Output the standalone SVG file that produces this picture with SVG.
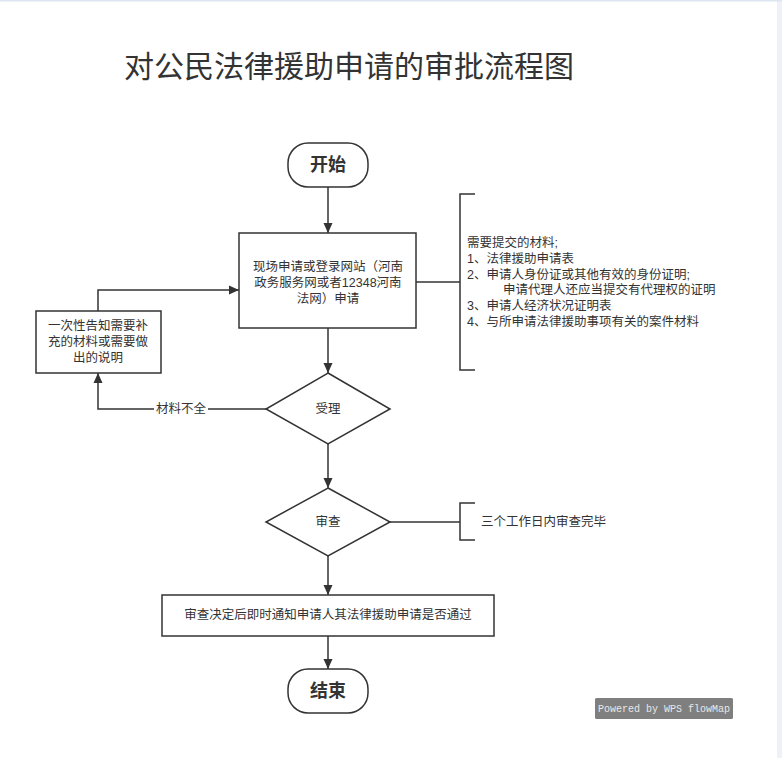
<svg xmlns="http://www.w3.org/2000/svg" width="782" height="758" viewBox="0 0 782 758">
<defs>
<marker id="arr" viewBox="0 0 10 10" refX="10" refY="5" markerWidth="10" markerHeight="10" markerUnits="userSpaceOnUse" orient="auto">
<path d="M0,0.5 L10,5 L0,9.5 Z" fill="#333333"/>
</marker>
<style>
.shape{fill:#ffffff;stroke:#333333;stroke-width:1.5}
.line{fill:none;stroke:#333333;stroke-width:1.5}
.t{font-family:"Liberation Sans","Noto Sans CJK SC",sans-serif;fill:#333333;font-size:12.5px}
.c{text-anchor:middle;dominant-baseline:central}
.term{font-family:"Liberation Sans","Noto Sans CJK SC",sans-serif;fill:#333333;font-size:18px;font-weight:bold;text-anchor:middle;dominant-baseline:central}
</style>
</defs>
<rect x="0" y="0" width="782" height="758" fill="#ffffff"/>
<rect x="777" y="0" width="5" height="758" fill="#eef2f8"/>
<rect x="0" y="0" width="782" height="1.5" fill="#dce6f2"/>
<text x="349" y="66" font-family="'Liberation Sans','Noto Sans CJK SC',sans-serif" font-size="30" fill="#333333" text-anchor="middle" dominant-baseline="central">对公民法律援助申请的审批流程图</text>

<g id="connectors">
<line class="line" x1="328" y1="187" x2="328" y2="233" marker-end="url(#arr)"/>
<line class="line" x1="328" y1="328" x2="328" y2="373" marker-end="url(#arr)"/>
<line class="line" x1="328" y1="444" x2="328" y2="488" marker-end="url(#arr)"/>
<line class="line" x1="328" y1="556" x2="328" y2="595" marker-end="url(#arr)"/>
<line class="line" x1="328" y1="636" x2="328" y2="669" marker-end="url(#arr)"/>
<polyline class="line" points="98,311 98,290 239,290" marker-end="url(#arr)"/>
<polyline class="line" points="266,409 98,409 98,373" marker-end="url(#arr)"/>
<rect x="154" y="401" width="54" height="16" fill="#ffffff"/>
<text class="t c" x="181" y="409">材料不全</text>
<line class="line" x1="416" y1="282" x2="460" y2="282"/>
<polyline class="line" points="475,194 460,194 460,370 475,370"/>
<line class="line" x1="390" y1="522" x2="460" y2="522"/>
<polyline class="line" points="475,503 460,503 460,540 475,540"/>
</g>

<g id="start">
<rect class="shape" x="288" y="143" width="80" height="44" rx="20" ry="20"/>
<text class="term" x="328" y="165">开始</text>
</g>

<g id="apply">
<rect class="shape" x="239" y="233" width="177" height="95"/>
<text class="t c" x="328" y="267">现场申请或登录网站（河南</text>
<text class="t c" x="328" y="283">政务服务网或者12348河南</text>
<text class="t c" x="328" y="299">法网）申请</text>
</g>

<g id="materials">
<text class="t" x="467" y="243" dominant-baseline="central" font-size="12">需要提交的材料;</text>
<text class="t" x="467" y="259" dominant-baseline="central" font-size="12">1、法律援助申请表</text>
<text class="t" x="467" y="275" dominant-baseline="central" font-size="12">2、申请人身份证或其他有效的身份证明;</text>
<text class="t" x="503" y="290" dominant-baseline="central" font-size="12">申请代理人还应当提交有代理权的证明</text>
<text class="t" x="467" y="306" dominant-baseline="central" font-size="12">3、申请人经济状况证明表</text>
<text class="t" x="467" y="322" dominant-baseline="central" font-size="12">4、与所申请法律援助事项有关的案件材料</text>
</g>

<g id="notify">
<rect class="shape" x="36" y="311" width="125" height="62"/>
<text class="t c" x="98" y="326">一次性告知需要补</text>
<text class="t c" x="98" y="342">充的材料或需要做</text>
<text class="t c" x="98" y="358">出的说明</text>
</g>

<g id="accept">
<polygon class="shape" points="328,373 390,409 328,444 266,409"/>
<text class="t c" x="328" y="409">受理</text>
</g>

<g id="review">
<polygon class="shape" points="328,488 390,522 328,556 266,522"/>
<text class="t c" x="328" y="522">审查</text>
</g>

<g id="reviewnote">
<text class="t" x="481" y="522" dominant-baseline="central">三个工作日内审查完毕</text>
</g>

<g id="decision">
<rect class="shape" x="162" y="595" width="332" height="41"/>
<text class="t c" x="328" y="615">审查决定后即时通知申请人其法律援助申请是否通过</text>
</g>

<g id="end">
<rect class="shape" x="288" y="669" width="80" height="44" rx="20" ry="20"/>
<text class="term" x="328" y="691">结束</text>
</g>

<g id="watermark">
<rect x="595" y="698" width="138" height="21" rx="1.5" fill="#7f7f7f"/>
<text x="664" y="709" font-family="'Liberation Mono',monospace" font-size="10" fill="#e8e8e8" text-anchor="middle" dominant-baseline="central">Powered by WPS flowMap</text>
</g>
</svg>
